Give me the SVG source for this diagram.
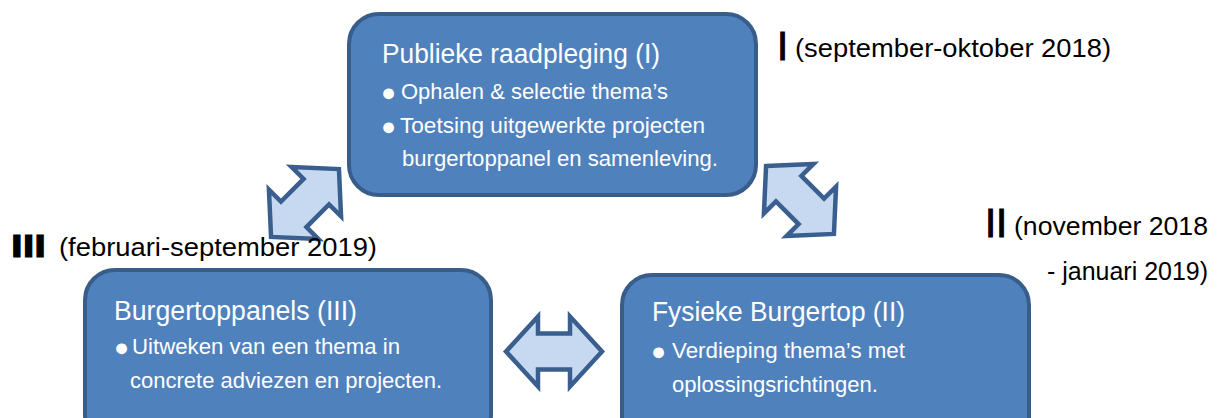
<svg xmlns="http://www.w3.org/2000/svg" width="1231" height="418" viewBox="0 0 1231 418">
  <defs>
    <style>
      .box { fill: #4f81bd; stroke: #385d8a; stroke-width: 4; }
      .arr { fill: #c6d9f1; stroke: #3a5f8e; stroke-width: 4.5; stroke-linejoin: miter; }
      .t { font-family: "Liberation Sans", Arial, sans-serif; fill: #ffffff; }
      .title { font-size: 27px; }
      .body { font-size: 22px; }
      .bul { font-family: "Liberation Sans", "DejaVu Sans", sans-serif; font-size: 25px; fill: #ffffff; }
      .lab { font-family: "Liberation Sans", Arial, sans-serif; fill: #000000; font-size: 26px; }
      .num { font-family: "Liberation Sans", Arial, sans-serif; fill: #000000; stroke: #000000; stroke-width: 1; font-size: 40px; }
    </style>
    <polygon id="dbl" points="-48,0 -16,-35 -16,-18 16,-18 16,-35 48,0 16,35 16,18 -16,18 -16,35"/>
  </defs>
  <rect width="1231" height="418" fill="#ffffff"/>

  <g id="connectors">
    <use href="#dbl" class="arr" transform="translate(305,203) rotate(-45)"/>
    <use href="#dbl" class="arr" transform="translate(800,200) rotate(45)"/>
    <use href="#dbl" class="arr" transform="translate(554,351.5)"/>
  </g>

  <g id="node-publieke-raadpleging">
    <rect class="box" x="349" y="14" width="407" height="181" rx="30" ry="30"/>
    <text class="t title" x="382" y="63" textLength="278" lengthAdjust="spacingAndGlyphs">Publieke raadpleging (I)</text>
    <text class="bul" x="381" y="101">●</text>
    <text class="t body" x="401" y="99" textLength="267" lengthAdjust="spacingAndGlyphs">Ophalen &amp; selectie thema’s</text>
    <text class="bul" x="381" y="135">●</text>
    <text class="t body" x="400" y="133" textLength="305" lengthAdjust="spacingAndGlyphs">Toetsing uitgewerkte projecten</text>
    <text class="t body" x="402" y="166" textLength="316" lengthAdjust="spacingAndGlyphs">burgertoppanel en samenleving.</text>
  </g>

  <g id="node-burgertoppanels">
    <rect class="box" x="85" y="270" width="406" height="175" rx="30" ry="30"/>
    <text class="t title" x="114" y="320" textLength="243" lengthAdjust="spacingAndGlyphs">Burgertoppanels (III)</text>
    <text class="bul" x="114" y="356">●</text>
    <text class="t body" x="132" y="354" textLength="268" lengthAdjust="spacingAndGlyphs">Uitweken van een thema in</text>
    <text class="t body" x="130" y="388" textLength="312" lengthAdjust="spacingAndGlyphs">concrete adviezen en projecten.</text>
  </g>

  <g id="node-fysieke-burgertop">
    <rect class="box" x="622" y="275" width="407" height="175" rx="30" ry="30"/>
    <text class="t title" x="652" y="321" textLength="253" lengthAdjust="spacingAndGlyphs">Fysieke Burgertop (II)</text>
    <text class="bul" x="651" y="360">●</text>
    <text class="t body" x="672" y="358" textLength="233" lengthAdjust="spacingAndGlyphs">Verdieping thema’s met</text>
    <text class="t body" x="672" y="392" textLength="206" lengthAdjust="spacingAndGlyphs">oplossingsrichtingen.</text>
  </g>

  <g id="phase-labels">
    <text class="num" x="777" y="60">I</text>
    <text class="lab" x="795" y="57" textLength="316" lengthAdjust="spacingAndGlyphs">(september-oktober 2018)</text>
    <text class="num" x="985" y="237" font-size="41">II</text>
    <text class="lab" x="1014" y="235" textLength="194" lengthAdjust="spacingAndGlyphs">(november 2018</text>
    <text class="lab" x="1047" y="280" textLength="161" lengthAdjust="spacingAndGlyphs">- januari 2019)</text>
    <text class="num" x="11" y="257" style="font-size:32px;font-weight:bold" textLength="35" lengthAdjust="spacingAndGlyphs">III</text>
    <text class="lab" x="59" y="256" textLength="318" lengthAdjust="spacingAndGlyphs">(februari-september 2019)</text>
  </g>
</svg>
